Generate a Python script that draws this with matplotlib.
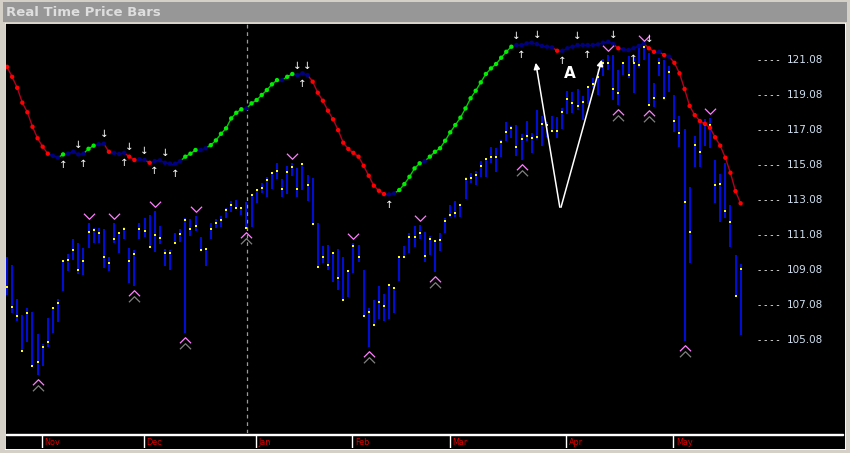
import matplotlib
matplotlib.use("Agg")
import matplotlib.pyplot as plt
import numpy as np
from matplotlib.path import Path
from matplotlib.patches import Rectangle

high = [109.84,109.37,107.42,106.51,106.91,106.68,105.42,104.85,106.34,106.91,107.42,109.66,110.00,110.86,110.63,110.34,111.77,111.49,111.49,111.43,
        109.83,111.77,111.26,111.54,110.34,110.23,111.77,112.06,112.23,112.46,111.60,110.28,110.23,111.20,111.43,112.06,112.00,112.17,110.97,110.34,
        111.77,112.00,112.17,112.63,113.03,113.09,112.69,112.97,113.43,113.72,114.06,114.40,114.63,115.20,114.29,115.03,115.20,114.92,115.20,114.52,
        114.35,111.77,110.46,110.51,110.11,110.28,109.83,109.08,110.63,110.51,109.08,106.91,107.37,108.17,107.71,108.28,108.11,109.88,110.46,111.20,
        111.60,111.66,111.26,111.03,110.80,111.20,112.06,112.80,113.03,112.86,114.40,114.63,114.75,115.32,115.49,116.12,116.06,116.52,117.55,117.32,
        117.38,116.86,117.61,116.92,118.24,117.89,117.55,117.89,117.84,118.35,119.32,119.27,119.44,119.04,119.61,120.07,120.58,121.15,121.38,121.38,
        120.53,120.98,121.33,121.27,121.78,121.96,121.50,119.78,121.21,121.10,120.75,119.10,117.89,117.15,113.83,116.75,117.55,117.72,117.78,115.38,
        114.58,115.20,112.80,109.94,109.43]
low = [107.65,106.62,106.17,104.39,104.96,103.53,103.08,103.59,104.68,105.48,106.11,107.88,109.03,109.66,108.86,108.80,110.34,110.63,110.63,109.20,
       109.03,110.63,110.06,110.86,108.34,108.17,110.86,110.97,110.34,110.11,110.57,109.31,109.08,110.57,110.69,105.48,111.03,111.32,110.17,109.31,
       110.86,111.49,111.54,112.06,112.40,112.57,112.23,111.49,111.54,112.92,113.49,113.26,113.72,114.29,113.26,113.43,114.46,113.26,113.66,113.03,
       111.66,109.20,109.48,109.08,108.40,107.94,107.31,107.54,108.91,109.54,106.40,104.68,105.88,106.28,106.17,106.28,106.62,108.46,109.83,110.06,
       110.40,110.86,109.54,109.94,108.97,110.17,111.20,112.11,112.11,112.11,113.15,114.06,113.95,114.40,114.40,115.20,114.69,115.55,116.46,116.64,
       115.61,115.38,116.46,115.78,116.58,116.18,116.69,116.98,116.64,117.15,118.01,118.07,118.24,117.67,118.58,119.55,119.10,120.18,120.53,118.81,
       118.52,120.24,120.07,119.21,120.70,121.10,118.47,118.41,120.18,118.81,119.27,116.98,116.12,105.02,109.48,114.98,114.98,116.18,116.06,112.92,
       111.83,112.06,110.40,107.54,105.37]
close = [108.13,106.98,106.45,104.45,106.62,103.59,103.82,104.68,104.96,106.91,107.20,109.60,109.66,110.23,109.08,109.60,111.26,111.37,111.20,109.83,
         109.48,110.86,111.20,111.43,109.60,110.00,111.43,111.32,110.40,111.09,110.91,110.06,110.06,110.63,111.14,111.94,111.43,111.60,110.23,110.28,
         111.43,111.77,111.94,112.52,112.80,112.63,112.63,111.49,113.37,113.66,113.78,114.23,114.63,114.75,113.72,114.69,114.98,113.72,115.15,113.95,
         111.72,109.26,109.83,109.37,110.06,108.63,107.37,109.03,110.46,109.83,106.45,106.68,105.94,107.25,107.03,108.23,108.06,109.83,109.83,110.97,
         110.97,111.20,109.88,110.86,110.74,110.80,111.89,112.23,112.34,112.80,114.29,114.35,114.52,115.03,115.43,115.55,115.55,116.41,116.98,117.21,
         116.12,116.58,116.75,116.64,116.69,117.44,117.38,117.04,117.04,118.12,118.87,118.64,118.47,118.69,119.55,119.72,120.12,120.93,120.93,119.44,
         119.21,120.93,120.24,120.93,120.81,121.84,118.52,118.92,120.93,118.92,120.41,117.61,116.92,112.97,111.26,116.24,115.84,117.38,117.38,113.95,
         114.01,112.46,111.83,107.60,109.14]
ma = [120.71,120.14,119.51,118.66,118.11,117.28,116.62,116.14,115.74,115.62,115.51,115.70,115.74,115.85,115.70,115.74,116.02,116.20,116.28,116.31,
      115.85,115.79,115.72,115.79,115.57,115.38,115.42,115.38,115.22,115.32,115.36,115.22,115.17,115.17,115.32,115.57,115.74,115.95,115.95,116.05,
      116.23,116.50,116.88,117.19,117.76,118.08,118.28,118.33,118.62,118.81,119.10,119.38,119.71,119.95,119.95,120.14,120.30,120.24,120.34,120.24,
      119.86,119.23,118.77,118.20,117.71,117.09,116.37,116.01,115.79,115.57,115.05,114.48,113.91,113.62,113.43,113.41,113.47,113.66,114.00,114.42,
      114.90,115.19,115.32,115.57,115.85,116.05,116.48,116.96,117.38,117.80,118.33,118.91,119.34,119.82,120.30,120.62,120.87,121.23,121.57,121.86,
      121.96,121.96,122.05,122.09,122.01,121.90,121.86,121.82,121.63,121.63,121.77,121.86,121.96,121.96,121.96,121.96,121.99,122.09,122.14,122.01,
      121.77,121.71,121.67,121.77,121.90,122.05,121.77,121.57,121.57,121.38,121.29,120.94,120.34,119.44,118.47,117.95,117.61,117.45,117.22,116.68,
      116.20,115.51,114.65,113.60,112.90]

ytick_vals = [121.08, 119.08, 117.08, 115.08, 113.08, 111.08, 109.08, 107.08, 105.08]
months = ["Nov", "Dec", "Jan", "Feb", "Mar", "Apr", "May"]
month_start = [7.8, 27.8, 49.8, 68.8, 87.9, 110.8, 131.8]
session_line = 48.1
low_marks = [7, 26, 36, 48, 72, 85, 102, 121, 127, 134]
high_marks = [17, 22, 30, 38, 57, 69, 82, 119, 126, 139]
up_arrows = [12, 16, 24, 30, 34, 59, 76, 102, 110, 115, 124]
down_arrows = [15, 20, 25, 28, 32, 58, 60, 101, 105, 113, 120, 127]

n = len(high)
idx = np.arange(1, n + 1)
W, H = 850, 453
fig = plt.figure(figsize=(W / 100, H / 100), dpi=100)
fig.patch.set_facecolor("#d4d0c8")

def fr(x0, y0, x1, y1):
    return [x0 / W, 1 - y1 / H, (x1 - x0) / W, (y1 - y0) / H]

tb = fig.add_axes(fr(3, 2, 847, 22))
tb.set_facecolor("#979797"); tb.set_xticks([]); tb.set_yticks([])
for s in tb.spines.values(): s.set_visible(False)
tb.text(0.004, 0.5, "Real Time Price Bars", color="#dedede", fontsize=9.5,
        fontweight="bold", va="center", ha="left", transform=tb.transAxes)

bg = fig.add_axes(fr(5, 23, 845, 449))
bg.set_facecolor("black"); bg.set_xticks([]); bg.set_yticks([])
for s in bg.spines.values(): s.set_color("#ffffff"); s.set_linewidth(0.6)

ax = fig.add_axes(fr(6, 24, 843, 433))
ax.set_facecolor("black")
ax.set_xlim(0.8, 165.1)
ax.set_ylim(99.76, 123.16)
ax.set_xticks([]); ax.set_yticks([])
for s in ax.spines.values(): s.set_visible(False)

ax.axvline(session_line, color="#9a9a9a", ls=(0, (3, 3)), lw=0.9)

ax.vlines(idx, low, high, color="#0010ff", lw=1.2, zorder=3)
ax.scatter(idx, close, marker="s", s=1.4, color="#ffff00", zorder=4, linewidths=0)

ma_a = np.array(ma)
d = np.diff(ma_a, prepend=ma_a[0] - (ma_a[1] - ma_a[0]))
pt_col = []
ln_col = []
for v in d:
    if v < -0.15:
        pt_col.append("#ff0000"); ln_col.append("#b00020")
    elif v > 0.15:
        pt_col.append("#00ee00"); ln_col.append("#00cc00")
    else:
        pt_col.append("#000080"); ln_col.append("#000090")
for i in range(n - 1):
    ax.plot(idx[i:i + 2], ma_a[i:i + 2], color=ln_col[i + 1], lw=1.0, zorder=5)
ax.scatter(idx, ma_a, s=10, c=pt_col, zorder=6, linewidths=0)

up_chev = Path([(-1, -0.5), (0, 0.5), (1, -0.5)], [Path.MOVETO, Path.LINETO, Path.LINETO])
dn_chev = Path([(-1, 0.5), (0, -0.5), (1, 0.5)], [Path.MOVETO, Path.LINETO, Path.LINETO])
lm = np.array(low_marks); hm = np.array(high_marks)
ax.plot(lm, np.array(low)[lm - 1] - 0.4, ls="none", marker=up_chev, ms=8, mfc="none",
        mec="#ff80ff", mew=0.9, zorder=6)
ax.plot(lm, np.array(low)[lm - 1] - 0.72, ls="none", marker=up_chev, ms=8, mfc="none",
        mec="#808080", mew=0.9, zorder=6)
ax.plot(hm, np.array(high)[hm - 1] + 0.4, ls="none", marker=dn_chev, ms=8, mfc="none",
        mec="#ff80ff", mew=0.9, zorder=6)

ua = np.array(up_arrows); da = np.array(down_arrows)
for i in ua:
    ax.text(i, ma_a[i - 1] - 0.3, "↑", color="white", fontsize=7.5,
            ha="center", va="top", zorder=7)
for i in da:
    ax.text(i, ma_a[i - 1] + 0.25, "↓", color="white", fontsize=7.5,
            ha="center", va="bottom", zorder=7)

ax.annotate("", xy=(104.7, 121.1), xytext=(109.6, 112.52),
            arrowprops=dict(arrowstyle="-|>", color="white", lw=1.1, mutation_scale=9), zorder=8)
ax.annotate("", xy=(117.9, 121.27), xytext=(109.6, 112.52),
            arrowprops=dict(arrowstyle="-|>", color="white", lw=1.1, mutation_scale=9), zorder=8)
ax.text(111.4, 120.35, "A", color="white", fontsize=11, fontweight="bold", ha="center",
        va="center", zorder=8)

for v in ytick_vals:
    ax.text(150.6, v, "- - - -", color="white", fontsize=6.5, ha="center", va="center")
    ax.text(157.6, v, f"{v:.2f}", color="#d0e0f0", fontsize=7.5, ha="center", va="center")

fig.add_artist(Rectangle((6 / W, 1 - 435 / H), 837 / W, 1.5 / H, color="white",
                         transform=fig.transFigure))
da_ax = fig.add_axes(fr(6, 436, 843, 448))
da_ax.set_facecolor("black")
da_ax.set_xlim(ax.get_xlim()); da_ax.set_ylim(0, 1)
da_ax.set_xticks([]); da_ax.set_yticks([])
for s in da_ax.spines.values(): s.set_visible(False)
for m, x in zip(months, month_start):
    da_ax.axvline(x, color="white", lw=1)
    da_ax.text(x + 0.5, 0.45, m, color="#dd0000", fontsize=6.5, ha="left", va="center",
               fontstretch="condensed")

fig.savefig("out.png", dpi=100, facecolor=fig.get_facecolor())
